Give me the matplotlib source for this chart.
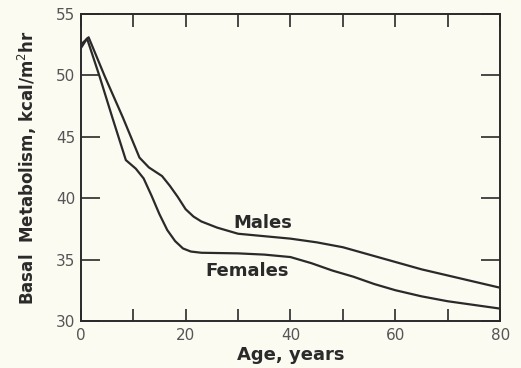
import numpy as np
import matplotlib.pyplot as plt

# values
age_m = [0, 1.5, 4.6, 8, 11.2, 13, 15.5, 17, 18.5, 20, 21.5, 23, 26, 30, 35, 40, 45, 50, 55, 60, 65, 70, 75, 80]
bmr_m = [52.5, 53.1, 49.9, 46.6, 43.3, 42.5, 41.8, 41.0, 40.1, 39.1, 38.5, 38.1, 37.6, 37.1, 36.9, 36.7, 36.4, 36.0, 35.4, 34.8, 34.2, 33.7, 33.2, 32.7]
age_f = [0, 1.2, 3.6, 6, 8.6, 10.5, 12, 13.5, 15, 16.5, 18, 19.5, 21, 23, 30, 35, 40, 44, 48, 52, 56, 60, 65, 70, 75, 80]
bmr_f = [52.2, 53.0, 49.9, 46.6, 43.1, 42.4, 41.6, 40.2, 38.7, 37.4, 36.5, 35.9, 35.65, 35.55, 35.5, 35.4, 35.2, 34.7, 34.1, 33.6, 33.0, 32.5, 32.0, 31.6, 31.3, 31.0]

bg = '#fcfbf2'
ink = '#2a2a2a'

fig = plt.figure(figsize=(5.21, 3.68), dpi=100, facecolor=bg)
ax = fig.add_axes([0.155, 0.128, 0.805, 0.834], facecolor=bg)

ax.plot(age_m, bmr_m, color=ink, lw=1.6)
ax.plot(age_f, bmr_f, color=ink, lw=1.6)

ax.text(34.7, 38.0, 'Males', fontsize=13, fontweight='bold', color=ink, ha='center', va='center')
ax.text(31.7, 34.1, 'Females', fontsize=13, fontweight='bold', color=ink, ha='center', va='center')

ax.set_xlim(0, 80)
ax.set_ylim(30, 55)
ax.set_xticks([0, 20, 40, 60, 80])
ax.set_xticks([10, 30, 50, 70], minor=True)
ax.set_yticks([30, 35, 40, 45, 50, 55])
ax.tick_params(axis='x', which='both', direction='in', length=9, width=1.2, top=True,
               labelsize=11, colors=ink, labelcolor='#555555', pad=5)
ax.tick_params(axis='y', direction='in', length=14, width=1.2, right=True,
               labelsize=11, colors=ink, labelcolor='#555555', pad=4)
for s in ax.spines.values():
    s.set_linewidth(1.4)
    s.set_color(ink)

ax.set_xlabel('Age, years', fontsize=13, fontweight='bold', color=ink, labelpad=2)
ax.set_ylabel('Basal  Metabolism, kcal/m$^2$hr', fontsize=12, fontweight='bold', color=ink, labelpad=12)

fig.savefig('out.png', dpi=100, facecolor=bg)
